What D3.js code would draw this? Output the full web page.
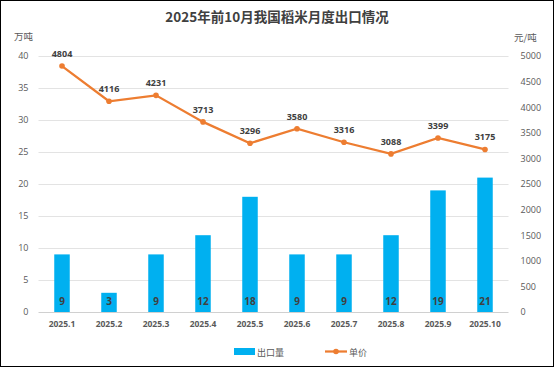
<!DOCTYPE html>
<html><head><meta charset="utf-8">
<script src="https://cdn.jsdelivr.net/npm/d3@7"></script>
<style>
html,body{margin:0;padding:0;background:#fff;}
svg{display:block;font-family:"Noto Sans CJK SC","Open Sans",sans-serif;}
</style></head>
<body>
<svg id="c" width="554" height="367"></svg>
<script>
const categories = ["2025.1","2025.2","2025.3","2025.4","2025.5","2025.6","2025.7","2025.8","2025.9","2025.10"];
const exportVolume = [9,3,9,12,18,9,9,12,19,21];
const unitPrice = [4804,4116,4231,3713,3296,3580,3316,3088,3399,3175];
const leftTicks = [0,5,10,15,20,25,30,35,40];
const rightTicks = [0,500,1000,1500,2000,2500,3000,3500,4000,4500,5000];

const svg = d3.select("#c");
const W = 554, H = 367;
const m = {l:38.5, r:508.5, t:56, b:312};
const txt = "#595959";

svg.append("rect").attr("x",0.5).attr("y",0.5).attr("width",W-1).attr("height",H-1)
  .attr("fill","#fff").attr("stroke","#000").attr("stroke-width",1);

const x = d3.scaleBand().domain(categories).range([m.l,m.r]);
const yL = d3.scaleLinear().domain([0,40]).range([m.b,m.t]);
const yR = d3.scaleLinear().domain([0,5000]).range([m.b,m.t]);

// gridlines
svg.append("g").selectAll("line").data(leftTicks).join("line")
  .attr("x1",m.l).attr("x2",m.r).attr("y1",d=>yL(d)+0.5).attr("y2",d=>yL(d)+0.5)
  .attr("stroke",d=>d===0?"#d0d0d0":"#e3e3e3").attr("stroke-width",1);

// left axis
const axL = svg.append("g").attr("transform",`translate(${m.l},0)`)
  .call(d3.axisLeft(yL).tickValues(leftTicks).tickSize(0).tickPadding(10));
axL.select(".domain").remove();
axL.selectAll("text").attr("fill",txt).style("font-size","9px").style("font-family","Open Sans, sans-serif");

// right axis
const axR = svg.append("g").attr("transform",`translate(${m.r},0)`)
  .call(d3.axisRight(yR).tickValues(rightTicks).tickFormat(d3.format("d")).tickSize(0).tickPadding(12));
axR.select(".domain").remove();
axR.selectAll("text").attr("fill",txt).style("font-size","9px").style("font-family","Open Sans, sans-serif");

// bottom axis
const axB = svg.append("g").attr("transform",`translate(0,${m.b})`)
  .call(d3.axisBottom(x).tickSize(0).tickPadding(9));
axB.select(".domain").remove();
axB.selectAll("text").attr("fill",txt).style("font-size","8.5px").style("font-weight","bold").style("font-family","Open Sans, sans-serif");

// bars
const bw = 15.5;
svg.append("g").selectAll("rect").data(exportVolume).join("rect")
  .attr("x",(d,i)=>x(categories[i])+x.bandwidth()/2-bw/2)
  .attr("y",d=>yL(d)).attr("width",bw).attr("height",d=>yL(0)-yL(d))
  .attr("fill","#00B0F0");
svg.append("g").selectAll("text").data(exportVolume).join("text")
  .attr("x",(d,i)=>x(categories[i])+x.bandwidth()/2)
  .attr("y",yL(0)-7).attr("text-anchor","middle")
  .attr("fill","#404040").style("font-size","10px").style("font-weight","bold")
  .style("font-family","Open Sans, sans-serif").text(d=>d);

// line
const cx = i=>x(categories[i])+x.bandwidth()/2;
const line = d3.line().x((d,i)=>cx(i)).y(d=>yR(d));
svg.append("path").datum(unitPrice).attr("d",line).attr("fill","none")
  .attr("stroke","#ED7D31").attr("stroke-width",2.25);
svg.append("g").selectAll("circle").data(unitPrice).join("circle")
  .attr("cx",(d,i)=>cx(i)).attr("cy",d=>yR(d)).attr("r",2.8).attr("fill","#ED7D31");
svg.append("g").selectAll("text").data(unitPrice).join("text")
  .attr("x",(d,i)=>cx(i)).attr("y",d=>yR(d)-9).attr("text-anchor","middle")
  .attr("fill","#404040").style("font-size","9px").style("font-weight","bold")
  .style("font-family","Open Sans, sans-serif").text(d=>d);

// title and unit labels
svg.append("text").attr("x",277).attr("y",22).attr("text-anchor","middle")
  .attr("fill","#404040").style("font-size","13.5px").style("font-weight","bold")
  .text("2025年前10月我国稻米月度出口情况");
svg.append("text").attr("x",14).attr("y",40).attr("fill",txt).style("font-size","9.5px").text("万吨");
svg.append("text").attr("x",514).attr("y",41).attr("fill",txt).style("font-size","9.5px").text("元/吨");

// legend
const lg = svg.append("g");
lg.append("rect").attr("x",234).attr("y",348).attr("width",21).attr("height",7).attr("fill","#00B0F0");
lg.append("text").attr("x",257).attr("y",355.5).attr("fill",txt).style("font-size","9px").text("出口量");
lg.append("line").attr("x1",325).attr("x2",347).attr("y1",351.5).attr("y2",351.5).attr("stroke","#ED7D31").attr("stroke-width",2.25);
lg.append("circle").attr("cx",336).attr("cy",351.5).attr("r",2.8).attr("fill","#ED7D31");
lg.append("text").attr("x",349).attr("y",355.5).attr("fill",txt).style("font-size","9px").text("单价");
</script>
</body></html>
